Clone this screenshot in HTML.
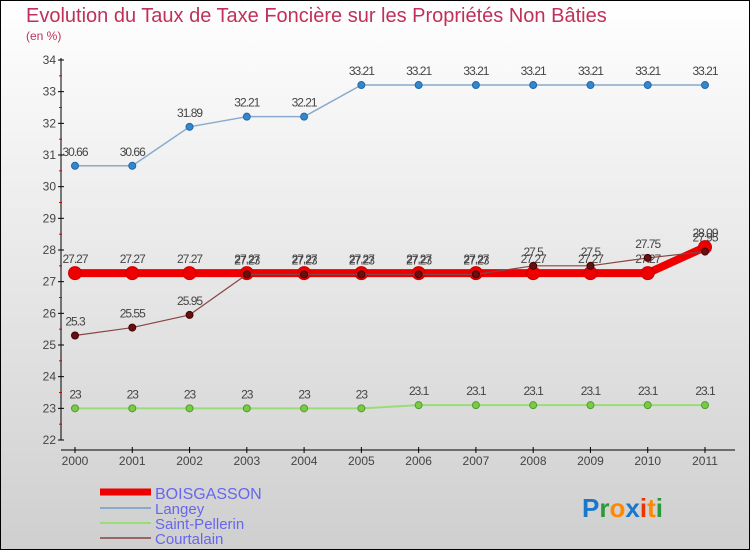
<!DOCTYPE html>
<html><head><meta charset="utf-8"><style>
body{margin:0;}
#c{width:750px;height:550px;position:relative;font-family:"Liberation Sans",sans-serif;}
</style></head><body>
<div id="c">
<svg id="s" width="750" height="550" xmlns="http://www.w3.org/2000/svg">
<defs><linearGradient id="bg" x1="0" y1="0" x2="0" y2="1"><stop offset="0" stop-color="#ffffff"/><stop offset="1" stop-color="#cfcfcf"/></linearGradient></defs>
<rect x="0.5" y="0.5" width="749" height="549" fill="url(#bg)" stroke="#000"/>
<text x="26" y="22" font-size="20" fill="#c0305a">Evolution du Taux de Taxe Foncière sur les Propriétés Non Bâties</text>
<text x="26" y="40" font-size="12" fill="#c0305a">(en %)</text>
<g id="axes"></g><g id="series"></g>
<g>
<line x1="100" y1="492" x2="151" y2="492" stroke="#ee0000" stroke-width="7"/>
<text x="155" y="499" font-size="16" fill="#6666ee">BOISGASSON</text>
<line x1="100" y1="508" x2="151" y2="508" stroke="#88aacc" stroke-width="2"/>
<text x="155" y="514" font-size="15" fill="#6666ee">Langey</text>
<line x1="100" y1="523" x2="151" y2="523" stroke="#99dd77" stroke-width="2"/>
<text x="155" y="529" font-size="15" fill="#6666ee">Saint-Pellerin</text>
<line x1="100" y1="538" x2="151" y2="538" stroke="#996666" stroke-width="2"/>
<text x="155" y="544" font-size="15" fill="#6666ee">Courtalain</text>
</g>
<text x="582" y="517" font-size="26" font-weight="bold"><tspan fill="#1a77cc">P</tspan><tspan fill="#2a9a3a">r</tspan><tspan fill="#ff8800">o</tspan><tspan fill="#1a77cc">x</tspan><tspan fill="#ee3300">i</tspan><tspan fill="#ff8800">t</tspan><tspan fill="#2a9a3a">i</tspan></text>
</svg>
</div>
<script>
const years=[2000,2001,2002,2003,2004,2005,2006,2007,2008,2009,2010,2011];
const yTicks=[22,23,24,25,26,27,28,29,30,31,32,33,34];
const boisgasson=[27.27,27.27,27.27,27.27,27.27,27.27,27.27,27.27,27.27,27.27,27.27,28.09];
const langey=[30.66,30.66,31.89,32.21,32.21,33.21,33.21,33.21,33.21,33.21,33.21,33.21];
const saintPellerin=[23,23,23,23,23,23,23.1,23.1,23.1,23.1,23.1,23.1];
const courtalain=[25.3,25.55,25.95,27.23,27.23,27.23,27.23,27.23,27.5,27.5,27.75,27.95];
const NS="http://www.w3.org/2000/svg";
const X=i=>75+i*(630/11);
const Y=v=>440-(v-22)*(380/12);
function mk(t,a,p){const e=document.createElementNS(NS,t);for(const k in a)e.setAttribute(k,a[k]);p.appendChild(e);return e;}
const ax=document.getElementById('axes');
let l=mk('line',{x1:61,y1:58,x2:61,y2:440,stroke:'#000'},ax);


l=mk('line',{x1:61,y1:450,x2:735,y2:450,stroke:'#000'},ax);


yTicks.forEach((v,i)=>{
 const t=mk('line',{x1:58,y1:Y(v),x2:64,y2:Y(v),stroke:'#000'},ax);
 
 
 if(i<yTicks.length-1){const m=mk('line',{x1:59,y1:Y(v+0.5),x2:62,y2:Y(v+0.5),stroke:'#d00'},ax);
 
 }
 const tx=mk('text',{x:56,y:Y(v)+4,'font-size':12,fill:'#444','text-anchor':'end'},ax);tx.textContent=v;
 
 
});
years.forEach((y,i)=>{
 const t=mk('line',{x1:X(i),y1:447,x2:X(i),y2:453,stroke:'#000'},ax);
 
 
 const tx=mk('text',{x:X(i),y:465,'font-size':12,fill:'#444','text-anchor':'middle'},ax);tx.textContent=y;
 
 
});
const sg=document.getElementById('series');
function draw(name,vals,color,w,r,fill,stroke){
 const g=mk('g',{},sg);
 
 
 const p=mk('polyline',{points:vals.map((v,i)=>X(i)+','+Y(v)).join(' '),fill:'none',stroke:color,'stroke-width':w,'stroke-linejoin':'round'},g);
 
 
 vals.forEach((v,i)=>{
  const c=mk('circle',{cx:X(i),cy:Y(v),r:r,fill:fill,stroke:stroke,'stroke-width':1},g);
  
  
  const t=mk('text',{x:X(i),y:Y(v)-10,'font-size':12,fill:'#444','text-anchor':'middle','letter-spacing':'-1'},g);t.textContent=v;
  
  
 });
}
draw('saint-pellerin',saintPellerin,'#99dd77',2,3.5,'#77cc44','#559933');
draw('langey',langey,'#88aacc',1.5,3.5,'#3388cc','#2266aa');
draw('boisgasson',boisgasson,'#ee0000',8,6.5,'#ee0000','#cc0000');
draw('courtalain',courtalain,'#884444',1.2,3.5,'#661111','#440000');
</script>
</body></html>
